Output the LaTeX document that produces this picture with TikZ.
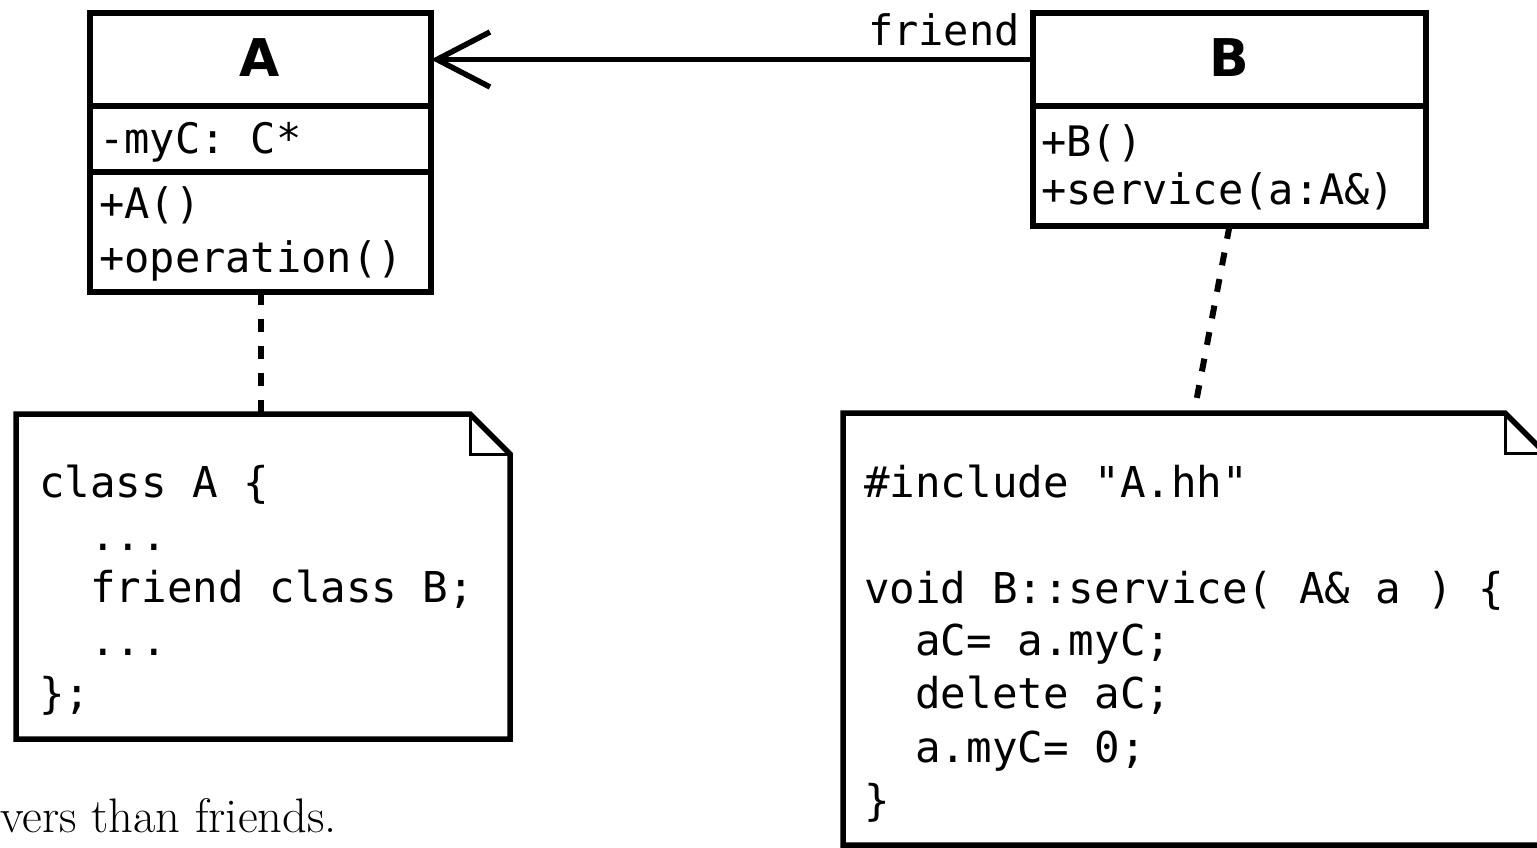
\documentclass[tikz,border=0pt]{standalone}
\usepackage{fontspec}
\newfontfamily\codefont{DejaVu Sans Mono}
\newfontfamily\headfont{DejaVu Sans}
\usetikzlibrary{arrows.meta}
\begin{document}
\begin{tikzpicture}[x=1pt,y=-1pt,
  box/.style={draw, fill=white, line width=5.5pt, inner sep=0pt, outer sep=0pt},
  headtxt/.style={font=\headfont\bfseries\fontsize{52}{60}\selectfont, anchor=base, inner sep=0pt},
  membertxt/.style={font=\codefont\fontsize{42}{50}\selectfont, anchor=base west, inner sep=0pt},
  codetxt/.style={font=\codefont\fontsize{42.5}{53}\selectfont, anchor=base west, inner sep=0pt},
  notebox/.style={inner sep=0pt, outer sep=0pt},
  noteline/.style={draw, fill=white, line width=5.5pt, line join=miter},
  foldline/.style={line width=3pt},
  dep/.style={line width=6pt, dash pattern=on 13pt off 14pt},
  assoc/.style={line width=5.5pt, -{Straight Barb[length=53pt, width=55pt]}}
]
\useasboundingbox (0,0) rectangle (1537,847);
\clip (0,0) rectangle (1537,847);
\fill[white] (0,0) rectangle (1537,847);

% note anchors (invisible)
\node[notebox, minimum width=494pt, minimum height=325pt] (noteA) at (263,576.5) {};
\node[notebox, minimum width=702pt, minimum height=432pt] (noteB) at (1194,629) {};

% class A
\node[box, minimum width=341pt, minimum height=93pt] (Ahead) at (260.5,59.5) {};
\node[box, minimum width=341pt, minimum height=66pt] (Aattr) at (260.5,139) {};
\node[box, minimum width=341pt, minimum height=120pt] (Aops) at (260.5,232) {};
\node[headtxt] (Aname) at (260,76) {A};
\node[membertxt] (Aa1) at (99,153) {-myC: C*};
\node[membertxt] (Ao1) at (99,218) {+A()};
\node[membertxt] (Ao2) at (99,272) {+operation()};

% class B
\node[box, minimum width=393pt, minimum height=93pt] (Bhead) at (1229.5,59.5) {};
\node[box, minimum width=393pt, minimum height=120pt] (Bops) at (1229.5,166) {};
\node[headtxt] (Bname) at (1229,76) {B};
\node[membertxt] (Bo1) at (1041,156) {+B()};
\node[membertxt] (Bo2) at (1041,204) {+service(a:A\&)};

% association
\draw[assoc] (Bhead.west) -- (Ahead.east);
\node[font=\codefont\fontsize{42}{50}\selectfont, anchor=base east, inner sep=0pt] (friendlbl) at (1020,45) {friend};

% dependencies to notes
\draw[dep] (Aops.south) -- (Aops.south |- noteA.north);
\draw[dep] (Bops.south) -- (noteB.north);

% note A
\draw[noteline] (noteA.north west) -- ([xshift=-40pt]noteA.north east) -- ([yshift=-40pt]noteA.north east) -- (noteA.south east) -- (noteA.south west) -- cycle;
\draw[foldline] ([xshift=-40pt]noteA.north east) |- ([yshift=-40pt]noteA.north east);
\node[codetxt] (nA1) at (39,497) {class A \{};
\node[codetxt] (nA2) at (39,550) {\phantom{xx}...};
\node[codetxt] (nA3) at (39,602) {\phantom{xx}friend class B;};
\node[codetxt] (nA4) at (39,655) {\phantom{xx}...};
\node[codetxt] (nA5) at (39,708) {\};};

% note B
\draw[noteline] (noteB.north west) -- ([xshift=-40pt]noteB.north east) -- ([yshift=-40pt]noteB.north east) -- (noteB.south east) -- (noteB.south west) -- cycle;
\draw[foldline] ([xshift=-40pt]noteB.north east) |- ([yshift=-40pt]noteB.north east);
\node[codetxt] (nB1) at (864,497) {\#include "A.hh"};
\node[codetxt] (nB2) at (864,603) {void B::service( A\& a ) \{};
\node[codetxt] (nB3) at (864,655) {\phantom{xx}aC= a.myC;};
\node[codetxt] (nB4) at (864,708) {\phantom{xx}delete aC;};
\node[codetxt] (nB5) at (864,762) {\phantom{xx}a.myC= 0;};
\node[codetxt] (nB6) at (864,815) {\}};

% caption fragment
\node[anchor=base east, font=\fontsize{48.5}{55}\selectfont, inner sep=0pt] (caption) at (337,832) {vers than friends.};
\end{tikzpicture}
\end{document}
